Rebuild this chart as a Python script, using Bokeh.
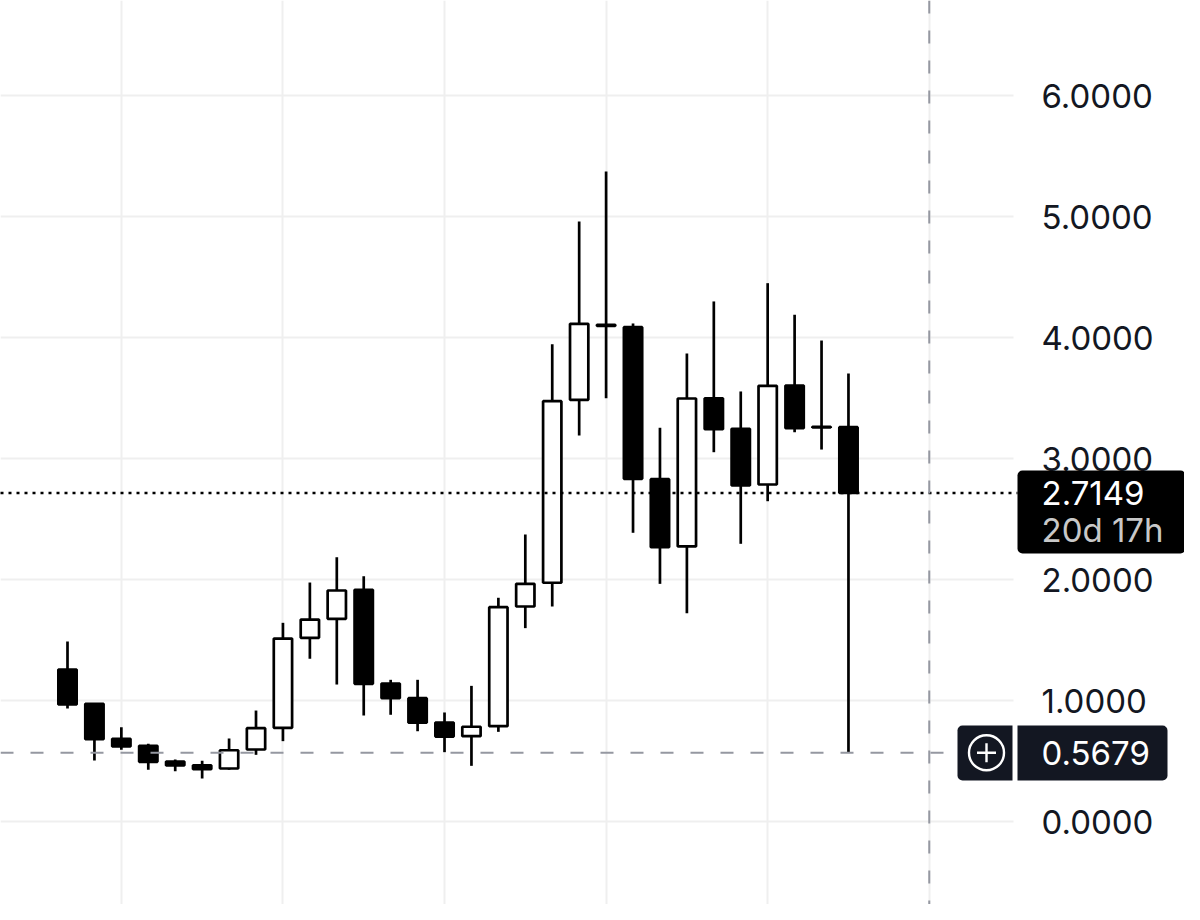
import numpy as np
from bokeh.plotting import figure
from bokeh.models import (Range1d, FixedTicker, Span, BoxAnnotation, Label,
                          ColumnDataSource)
from bokeh.core.properties import value
from bokeh.embed import file_html
from bokeh.resources import INLINE

# ---- data (monthly OHLC) ----
opens = [1.256, 0.973, 0.683, 0.626, 0.496, 0.465, 0.438, 0.595, 0.774, 1.518,
         1.675, 1.915, 1.140, 1.019, 0.818, 0.705, 0.788, 1.777, 1.973, 3.485,
         4.105, 4.085, 2.829, 2.273, 3.498, 3.245, 2.785, 3.603, 3.262, 3.259]
highs = [1.488, 0.975, 0.779, 0.642, 0.512, 0.502, 0.686, 0.917, 1.642, 1.975,
         2.184, 2.027, 1.171, 1.171, 0.901, 1.121, 1.849, 2.372, 3.945, 4.959,
         5.372, 4.116, 3.254, 3.868, 4.298, 3.554, 4.449, 4.188, 3.975, 3.702]
lows = [0.934, 0.504, 0.593, 0.427, 0.416, 0.355, 0.427, 0.551, 0.664, 1.345,
        1.132, 0.876, 0.882, 0.746, 0.573, 0.460, 0.741, 1.598, 1.777, 3.190,
        3.498, 2.386, 1.964, 1.722, 3.052, 2.295, 2.647, 3.217, 3.074, 0.5679]
closes = [0.967, 0.680, 0.620, 0.493, 0.463, 0.432, 0.589, 0.771, 1.512, 1.669,
          1.909, 1.138, 1.019, 0.816, 0.702, 0.783, 1.771, 1.964, 3.474, 4.113,
          4.095, 2.832, 2.267, 3.496, 3.242, 2.777, 3.601, 3.250, 3.258, 2.7149]
price_ticks = [0, 1, 2, 3, 4, 5, 6]
price_tick_labels = ["0.0000", "1.0000", "2.0000", "3.0000", "4.0000", "5.0000", "6.0000"]
grid_bars = [2, 8, 14, 20, 26, 32]
last_label = "2.7149"
countdown_label = "20d 17h"
low_label = "0.5679"

# ---- layout (pixel geometry of the price pane) ----
W, H = 1184, 904
BAR_PX = 26.93          # pixels per bar
UNIT_PX = 121.0         # pixels per 1.0 of price
FIRST_BAR_PX = 67       # pixel x of first bar
ZERO_PX = 821           # pixel y of price 0
PANE_RIGHT_PX = 1013    # right edge of the price pane
X0 = -FIRST_BAR_PX / BAR_PX
X1 = X0 + W / BAR_PX
Y1 = ZERO_PX / UNIT_PX
Y0 = Y1 - H / UNIT_PX


def px2x(px):
    return X0 + px / BAR_PX


def px2y(py):
    return Y1 - py / UNIT_PX


n = len(closes)
idx = list(range(n))
o = np.array(opens); c = np.array(closes)
src = ColumnDataSource(dict(
    x=idx, high=highs, low=lows,
    top=np.maximum(o, c), bottom=np.minimum(o, c),
    fill=["#ffffff" if cc > oo else "#000000" for oo, cc in zip(opens, closes)],
))

p = figure(width=W, height=H, x_range=Range1d(X0, X1), y_range=Range1d(Y0, Y1),
           output_backend="svg", toolbar_location=None,
           x_axis_location=None, y_axis_location=None,
           min_border=0)
p.outline_line_color = None
p.background_fill_color = "white"
p.border_fill_color = "white"

# grid: vertical lines through full height, horizontal lines only in price pane
p.xgrid.ticker = FixedTicker(ticks=grid_bars)
p.xgrid.grid_line_color = "#efefef"
p.xgrid.grid_line_width = 2
p.ygrid.visible = False
p.segment(x0=[X0] * len(price_ticks), x1=[px2x(PANE_RIGHT_PX)] * len(price_ticks),
          y0=price_ticks, y1=price_ticks, line_color="#efefef", line_width=2)

# price scale labels
p.text(x=[px2x(1041)] * len(price_ticks), y=price_ticks, text=price_tick_labels,
       text_font=value("Inter"), text_font_size="33px", text_color="#131722",
       text_baseline="middle", text_align="left")

# candles
p.segment(x0="x", y0="low", x1="x", y1="high", source=src,
          line_color="black", line_width=2.7)
p.vbar(x="x", width=0.68, top="top", bottom="bottom", source=src,
       fill_color="fill", line_color="black", line_width=2.7)

# low-price dashed line (up to the badge) and crosshair
p.segment(x0=[X0], x1=[px2x(957)], y0=[lows[-1]], y1=[lows[-1]],
          line_color="#9598a1", line_width=2, line_dash="13 17")
p.add_layout(Span(location=n + 2, dimension="height", line_color="#9598a1",
                  line_width=2, line_dash="13 17"))
# last price dotted line
p.segment(x0=[X0], x1=[px2x(1017)], y0=[closes[-1]], y1=[closes[-1]],
          line_color="black", line_width=2.5, line_dash="3 5", level="annotation")

# last price badge
p.add_layout(BoxAnnotation(left=px2x(1017), right=px2x(1185), top=px2y(470),
                           bottom=px2y(553), fill_color="black", fill_alpha=1,
                           line_color=None, border_radius=5))
p.add_layout(Label(x=px2x(1041), y=closes[-1], text=last_label,
                   text_color="white", text_font="Inter",
                   text_font_size="33px", text_baseline="middle"))
p.add_layout(Label(x=px2x(1041), y=px2y(529.5), text=countdown_label,
                   text_color="#c8c8c8", text_font="Inter",
                   text_font_size="33px", text_baseline="middle"))

# low price badge with plus button
p.add_layout(BoxAnnotation(left=px2x(957), right=px2x(1012), top=px2y(725),
                           bottom=px2y(780), fill_color="#131722", fill_alpha=1,
                           line_color=None, border_radius=(5, 0, 0, 5)))
p.add_layout(BoxAnnotation(left=px2x(1017), right=px2x(1167), top=px2y(725),
                           bottom=px2y(780), fill_color="#131722", fill_alpha=1,
                           line_color=None, border_radius=(0, 5, 5, 0)))
p.add_layout(Label(x=px2x(1041), y=lows[-1], text=low_label,
                   text_color="white", text_font="Inter",
                   text_font_size="33px", text_baseline="middle"))
p.scatter(x=[px2x(986)], y=[lows[-1]], marker="circle", size=35,
          fill_color=None, line_color="white", line_width=2.4, level="overlay")
p.scatter(x=[px2x(986)], y=[lows[-1]], marker="cross", size=19,
          line_color="white", line_width=2.4, level="overlay")

open("out.html", "w").write(file_html(p, INLINE))
